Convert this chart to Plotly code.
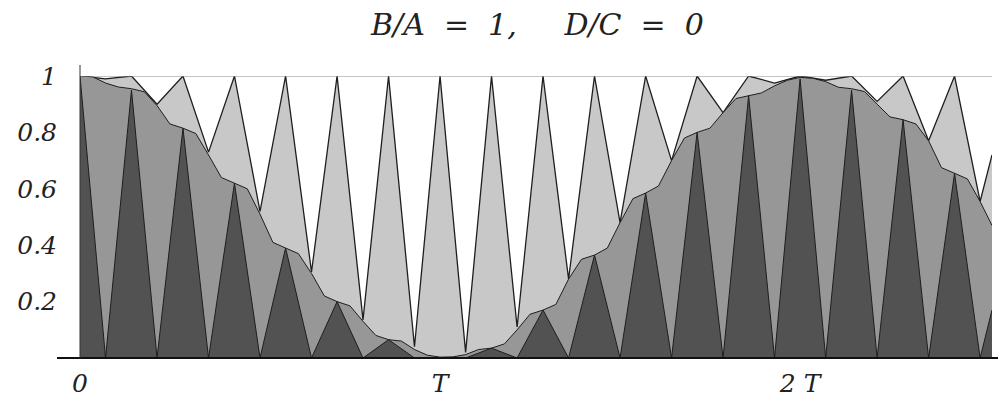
import plotly.graph_objects as go

# ---- data (time in units of T) ----
peak_t = [0.0, 0.143, 0.286, 0.429, 0.571, 0.714, 0.857, 1.0, 1.143, 1.286,
          1.429, 1.571, 1.714, 1.857, 2.0, 2.143, 2.286, 2.429]
mid_t = [0.071, 0.214, 0.357, 0.5, 0.643, 0.786, 0.929, 1.071, 1.214, 1.357,
         1.5, 1.643, 1.786, 1.929, 2.071, 2.214, 2.357, 2.5]
t_end = 2.533
quarter = 0.0357

# dark curve: peaks at peak_t, zero at mid_t
dark_peaks = [1.0, 0.95, 0.815, 0.62, 0.39, 0.20, 0.065, 0.0, 0.035, 0.17,
              0.365, 0.585, 0.80, 0.93, 0.99, 0.95, 0.845, 0.655]
dark_end = 0.17

# light curve: peaks at peak_t, valleys at mid_t
light_peaks = [1.0, 1.0, 1.0, 1.0, 1.0, 1.0, 1.0, 1.0, 1.0, 1.0,
               1.0, 1.0, 1.0, 1.0, 1.0, 1.0, 1.0, 1.0]
light_valleys = [0.99, 0.90, 0.73, 0.52, 0.305, 0.135, 0.04, 0.02, 0.11, 0.28,
                 0.48, 0.70, 0.87, 0.975, 0.985, 0.91, 0.77, 0.555]
light_end = 0.72

# medium (staircase) curve sampled at quarter periods
medium_peak = [1.0, 0.955, 0.815, 0.62, 0.39, 0.20, 0.065, 0.003, 0.035, 0.17,
               0.365, 0.585, 0.80, 0.93, 0.995, 0.955, 0.845, 0.655]
medium_q1 = [0.997, 0.944, 0.796, 0.60, 0.37, 0.185, 0.06, 0.004, 0.05, 0.19,
             0.39, 0.61, 0.815, 0.94, 0.992, 0.945, 0.83, 0.635]
medium_mid = [0.975, 0.895, 0.72, 0.51, 0.30, 0.13, 0.03, 0.012, 0.10, 0.28,
              0.48, 0.70, 0.87, 0.965, 0.98, 0.90, 0.77, 0.555]
medium_q3 = [0.961, 0.83, 0.64, 0.41, 0.22, 0.08, 0.01, 0.03, 0.155, 0.35,
             0.565, 0.78, 0.92, 0.985, 0.96, 0.855, 0.675]
medium_end = 0.47

x_ticks = [0, 1, 2]
x_ticktext = ["0", "T", "2 T"]
y_ticks = [0.2, 0.4, 0.6, 0.8, 1.0]
y_ticktext = ["0.2", "0.4", "0.6", "0.8", "1"]
title_text = "B/A  =  1,     D/C  =  0"

# ---- build traces ----
dx, dy, lx, ly = [], [], [], []
for k in range(len(peak_t)):
    dx += [peak_t[k], mid_t[k]]
    dy += [dark_peaks[k], 0.0]
    lx += [peak_t[k], mid_t[k]]
    ly += [light_peaks[k], light_valleys[k]]
dx.append(t_end); dy.append(dark_end)
lx.append(t_end); ly.append(light_end)

mx, my = [], []
for k in range(len(peak_t)):
    mx += [peak_t[k], peak_t[k] + quarter, mid_t[k]]
    my += [medium_peak[k], medium_q1[k], medium_mid[k]]
    if k < len(medium_q3):
        mx.append(mid_t[k] + quarter)
        my.append(medium_q3[k])
mx.append(t_end); my.append(medium_end)

LIGHT = "#c8c8c8"
MED = "#979797"
DARK = "#525252"
EDGE = "#1e1e1e"

fig = go.Figure()
fig.add_trace(go.Scatter(x=lx, y=ly, mode="lines", fill="tozeroy",
                         fillcolor=LIGHT, line=dict(color=EDGE, width=1.3),
                         hoverinfo="skip", showlegend=False))
fig.add_trace(go.Scatter(x=mx, y=my, mode="lines", fill="tozeroy",
                         fillcolor=MED, line=dict(color=EDGE, width=1.0),
                         hoverinfo="skip", showlegend=False))
fig.add_trace(go.Scatter(x=dx, y=dy, mode="lines", fill="tozeroy",
                         fillcolor=DARK, line=dict(color=EDGE, width=1.0),
                         hoverinfo="skip", showlegend=False))

# page has an 8px body margin, so figure coordinates are offset by (8, 8)
OFF = 8
W, H = 1006, 403
L, R, T, B = 80 - OFF, 22, 76 - OFF, 53
pw, ph = W - L - R, H - T - B

font_it = dict(family="DejaVu Serif", size=25, color="#222", style="italic")

fig.update_layout(
    width=W, height=H,
    margin=dict(l=L, r=R, t=T, b=B, pad=0, autoexpand=False),
    paper_bgcolor="white", plot_bgcolor="white",
    xaxis=dict(range=[0, t_end], showgrid=False, zeroline=False, showline=False,
               tickvals=x_ticks, ticktext=x_ticktext, ticks="", automargin=False,
               tickfont=font_it, ticklabelstandoff=8),
    yaxis=dict(range=[0, 1], showgrid=False, zeroline=False, showline=False,
               tickvals=y_ticks, ticktext=y_ticktext, ticks="", automargin=False,
               tickfont=font_it, ticklabelstandoff=22),
    shapes=[
        dict(type="line", xref="x", yref="y", x0=0, x1=t_end, y0=1, y1=1,
             line=dict(color="#8a8a8a", width=1.2)),
        dict(type="line", xref="paper", yref="paper",
             x0=(57 - 80) / pw, x1=(W - 80) / pw, y0=0, y1=0,
             line=dict(color="#111", width=2)),
        dict(type="line", xref="paper", yref="paper",
             x0=0, x1=0, y0=0, y1=(358 - 65) / ph,
             line=dict(color="#333", width=1)),
    ],
    annotations=[
        dict(text=title_text, xref="paper", yref="paper",
             x=(537 - 80) / pw, y=(358 - 25) / ph, xanchor="center", yanchor="middle",
             showarrow=False,
             font=dict(family="DejaVu Serif", size=30, color="#222", style="italic")),
    ],
)

fig.write_html("out.html")
